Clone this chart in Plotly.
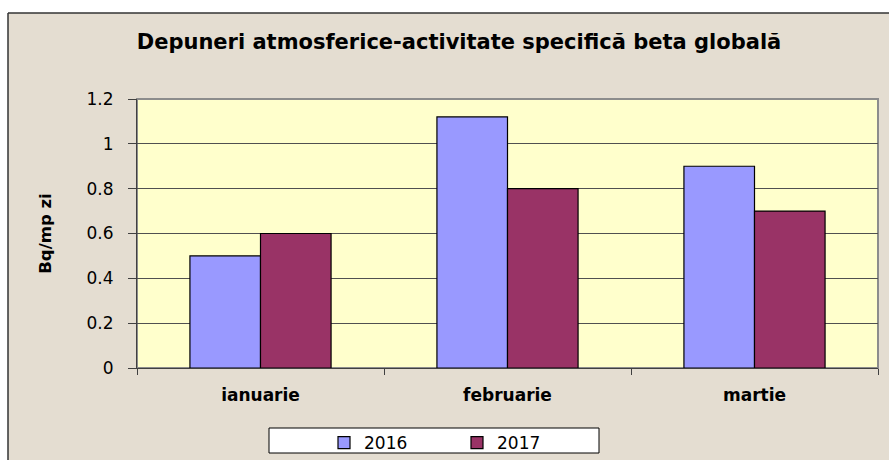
import plotly.graph_objects as go

categories = ["ianuarie", "februarie", "martie"]
series_names = ["2016", "2017"]
values_2016 = [0.5, 1.12, 0.9]
values_2017 = [0.6, 0.8, 0.7]
y_ticks = [0, 0.2, 0.4, 0.6, 0.8, 1.0, 1.2]
y_tick_labels = ["0", "0.2", "0.4", "0.6", "0.8", "1", "1.2"]

W, H = 889, 460
L, R, T, B = 137, 878, 99, 368


def px_x(x):
    return (x - L) / (R - L)


def px_y(y):
    return (B - y) / (B - T)


FONT = "DejaVu Sans, Verdana, sans-serif"
BEIGE = "#E4DDD1"

fig = go.Figure()
fig.add_trace(go.Bar(name=series_names[0], x=categories, y=values_2016,
                     marker=dict(color="#9999FF", line=dict(color="#000000", width=1.2))))
fig.add_trace(go.Bar(name=series_names[1], x=categories, y=values_2017,
                     marker=dict(color="#993366", line=dict(color="#000000", width=1.2))))

shapes = [
    dict(type="rect", xref="paper", yref="paper", x0=px_x(0), x1=px_x(W), y0=px_y(13), y1=px_y(0),
         fillcolor="white", line=dict(width=0), layer="below"),
    dict(type="rect", xref="paper", yref="paper", x0=px_x(0), x1=px_x(8), y0=px_y(H), y1=px_y(13),
         fillcolor="white", line=dict(width=0), layer="below"),
    dict(type="line", xref="paper", yref="paper", x0=px_x(8), x1=px_x(W + 5), y0=px_y(13), y1=px_y(13),
         line=dict(color="#333333", width=1.5), layer="below"),
    dict(type="line", xref="paper", yref="paper", x0=px_x(8), x1=px_x(8), y0=px_y(13), y1=px_y(H + 5),
         line=dict(color="#333333", width=1.5), layer="below"),
    dict(type="rect", xref="paper", yref="paper", x0=0, x1=1, y0=0, y1=1,
         line=dict(color="#8C8C8C", width=2), layer="below"),
    dict(type="rect", xref="paper", yref="paper", x0=px_x(269), x1=px_x(599), y0=px_y(453), y1=px_y(428),
         fillcolor="white", line=dict(color="#000000", width=1), layer="below"),
]

fig.update_layout(
    width=W, height=H,
    margin=dict(l=L, r=W - R, t=T, b=H - B, autoexpand=False),
    paper_bgcolor=BEIGE,
    plot_bgcolor="#FFFFCC",
    barmode="group",
    bargap=0.4286,
    bargroupgap=0,
    font=dict(family=FONT, color="#000000"),
    title=dict(text="Depuneri atmosferice-activitate specifică beta globală",
               font=dict(family=FONT, size=21, weight="bold", color="#000000"),
               xref="container", x=459 / W, xanchor="center",
               yref="container", y=1 - 42 / H, yanchor="middle"),
    xaxis=dict(showgrid=False, showline=True, linecolor="#404040", linewidth=1,
               ticks="outside", tickson="boundaries", ticklen=6, tickcolor="#404040",
               tickfont=dict(family=FONT, size=17, weight="bold", color="#000000"),
               ticklabelstandoff=12, automargin=False),
    yaxis=dict(range=[0, 1.2], tickvals=y_ticks, ticktext=y_tick_labels,
               showgrid=True, gridcolor="#505050", gridwidth=1,
               showline=True, linecolor="#404040", linewidth=1,
               ticks="outside", ticklen=8, tickcolor="#404040",
               tickfont=dict(family=FONT, size=17, color="#000000"),
               ticklabelstandoff=11, zeroline=False, automargin=False,
               title=dict(text="Bq/mp zi", font=dict(family=FONT, size=16.5, weight="bold", color="#000000"),
                          standoff=30)),
    legend=dict(orientation="h", xref="container", yref="container",
                x=324 / W, xanchor="left", y=1 - 425 / H, yanchor="top",
                bgcolor="rgba(0,0,0,0)", borderwidth=0, entrywidth=88, entrywidthmode="pixels",
                font=dict(family=FONT, size=17, color="#000000"), itemwidth=30,
                traceorder="normal"),
    shapes=shapes,
)

fig.write_html("out.html", config={"displayModeBar": False},
               post_script="document.body.style.margin='0';")
